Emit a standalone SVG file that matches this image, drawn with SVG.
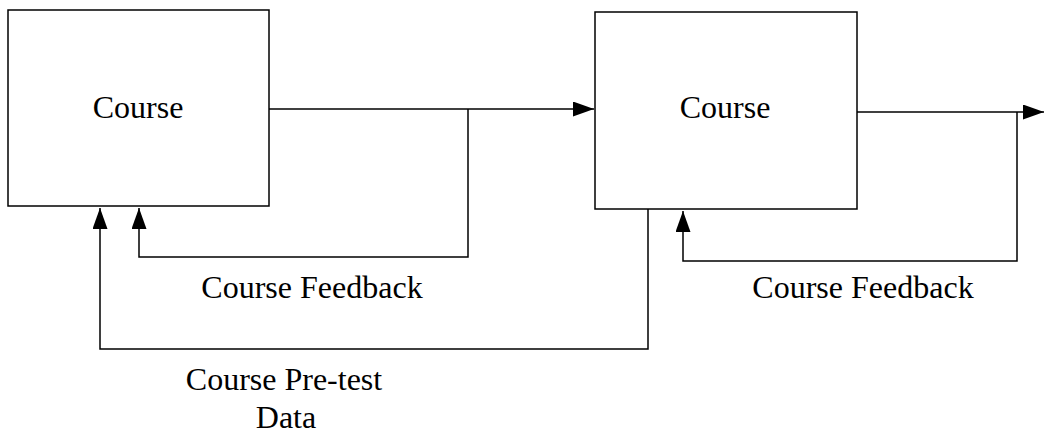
<svg xmlns="http://www.w3.org/2000/svg" width="1044" height="437" viewBox="0 0 1044 437">
<style>
.box{fill:#fff;stroke:#000;stroke-width:1.5}
.ln{fill:none;stroke:#000;stroke-width:1.5}
text{font-family:"Liberation Serif","Times New Roman",serif;font-size:32px;fill:#000}
</style>
<defs>
<marker id="ah" markerUnits="userSpaceOnUse" markerWidth="22" markerHeight="16" refX="21" refY="7.5" orient="auto">
<path d="M0,0 L21,7.5 L0,15 Z" fill="#000"/>
</marker>
</defs>
<rect width="1044" height="437" fill="#fff"/>
<g id="course1">
<rect class="box" x="8" y="10" width="261" height="196"/>
<text x="138" y="118" text-anchor="middle">Course</text>
</g>
<g id="course2">
<rect class="box" x="595" y="12" width="262" height="197"/>
<text x="725" y="118" text-anchor="middle">Course</text>
</g>
<g id="connectors">
<path class="ln" d="M269,109 L594,109" marker-end="url(#ah)"/>
<path class="ln" d="M468,109 L468,257 L139,257 L139,208" marker-end="url(#ah)"/>
<path class="ln" d="M648,209 L648,349 L100,349 L100,208" marker-end="url(#ah)"/>
<path class="ln" d="M857,112 L1044,112" marker-end="url(#ah)"/>
<path class="ln" d="M1017,112 L1017,261 L683,261 L683,211" marker-end="url(#ah)"/>
</g>
<g id="labels">
<text x="312" y="298" text-anchor="middle">Course Feedback</text>
<text x="863" y="298" text-anchor="middle">Course Feedback</text>
<text x="284" y="390" text-anchor="middle">Course Pre-test</text>
<text x="286" y="428" text-anchor="middle">Data</text>
</g>
</svg>
